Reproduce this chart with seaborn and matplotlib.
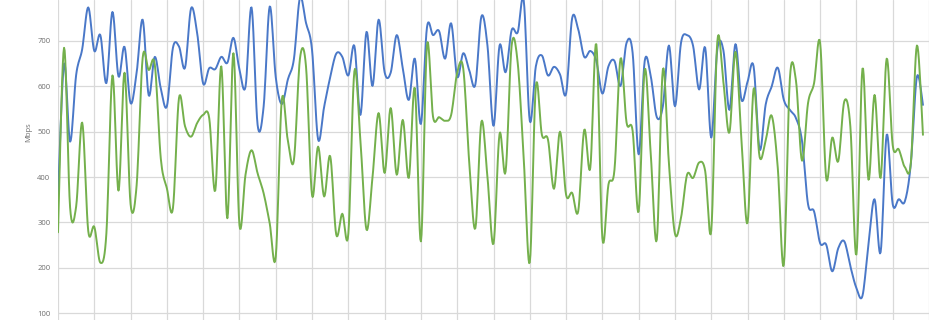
import numpy as np
import pandas as pd
import matplotlib
matplotlib.use("Agg")
import matplotlib.pyplot as plt
import seaborn as sns

# 10-minute measurement slots over one day (144 slots), gridline every hour
slot = list(range(144))

blue_mbps = [355, 650, 478, 625, 682, 774, 678, 713, 607, 764, 622, 687, 563, 630, 747, 580,
             665, 595, 556, 685, 688, 641, 772, 718, 606, 640, 638, 665, 652, 707, 637, 599,
             774, 515, 556, 776, 620, 561, 615, 660, 795, 740, 680, 483, 555, 620, 672, 665,
             624, 689, 537, 720, 601, 747, 631, 630, 713, 640, 570, 661, 517, 730, 713, 722,
             661, 739, 621, 673, 635, 604, 754, 690, 513, 690, 631, 724, 719, 789, 524, 644,
             668, 624, 643, 626, 584, 750, 726, 665, 678, 656, 584, 644, 656, 601, 696, 674,
             450, 656, 622, 532, 556, 690, 556, 696, 713, 689, 593, 685, 487, 681, 680, 548,
             693, 570, 610, 644, 461, 560, 600, 641, 570, 548, 530, 480, 340, 324, 254, 251,
             192, 243, 258, 203, 155, 138, 254, 351, 234, 493, 340, 351, 346, 430, 621, 559]

green_mbps = [278, 685, 333, 335, 520, 281, 290, 211, 276, 624, 370, 630, 340, 382, 663, 636,
              648, 440, 375, 331, 574, 512, 489, 519, 537, 530, 370, 644, 309, 673, 294, 405,
              459, 408, 364, 298, 224, 570, 480, 437, 661, 644, 360, 467, 357, 446, 273, 319,
              275, 633, 480, 284, 400, 541, 409, 552, 405, 526, 398, 596, 258, 690, 533, 532,
              524, 537, 630, 639, 430, 287, 522, 400, 253, 495, 412, 690, 652, 440, 212, 600,
              493, 483, 374, 500, 361, 365, 324, 504, 420, 693, 265, 383, 416, 661, 520, 502,
              324, 637, 450, 262, 637, 430, 275, 310, 405, 398, 432, 413, 282, 698, 610, 498,
              676, 481, 299, 594, 444, 481, 535, 420, 207, 617, 613, 436, 563, 607, 696, 398,
              487, 435, 567, 511, 229, 639, 394, 581, 398, 661, 470, 461, 422, 431, 690, 493]

series_names = ["blue", "green"]
palette = {"blue": "#4a78c8", "green": "#74b04c"}
y_ticks = [100, 200, 300, 400, 500, 600, 700]


def excel_smooth(x, y, steps=10):
    """Render a polyline the way a spreadsheet 'smoothed line' does (Bezier through the points)."""
    x = np.asarray(x, float)
    y = np.asarray(y, float)
    xp = np.concatenate([[x[0]], x, [x[-1]]])
    yp = np.concatenate([[y[0]], y, [y[-1]]])
    t = np.linspace(0, 1, steps, endpoint=False)[:, None]
    xs, ys = [], []
    for i in range(1, len(xp) - 2):
        p0x, p1x, p2x, p3x = xp[i - 1], xp[i], xp[i + 1], xp[i + 2]
        p0y, p1y, p2y, p3y = yp[i - 1], yp[i], yp[i + 1], yp[i + 2]
        c1x, c1y = p1x + (p2x - p0x) / 6, p1y + (p2y - p0y) / 6
        c2x, c2y = p2x - (p3x - p1x) / 6, p2y - (p3y - p1y) / 6
        bx = (1 - t) ** 3 * p1x + 3 * (1 - t) ** 2 * t * c1x + 3 * (1 - t) * t ** 2 * c2x + t ** 3 * p2x
        by = (1 - t) ** 3 * p1y + 3 * (1 - t) ** 2 * t * c1y + 3 * (1 - t) * t ** 2 * c2y + t ** 3 * p2y
        xs.append(bx.ravel())
        ys.append(by.ravel())
    xs.append([x[-1]])
    ys.append([y[-1]])
    return np.concatenate(xs), np.concatenate(ys)


frames = []
for name, vals in zip(series_names, [blue_mbps, green_mbps]):
    sx, sy = excel_smooth(slot, vals)
    frames.append(pd.DataFrame({"slot": sx, "mbps": sy, "series": name}))
df = pd.concat(frames, ignore_index=True)

sns.set_theme(style="white")
plt.rcParams["font.family"] = ["Open Sans", "DejaVu Sans"]

fig = plt.figure(figsize=(9.5, 3.2), dpi=100)
ax = fig.add_axes([58 / 950, 0.0, 871 / 950, 1.0])

sns.lineplot(data=df, x="slot", y="mbps", hue="series", palette=palette, hue_order=series_names,
             sort=False, estimator=None, legend=False, linewidth=1.4, ax=ax)

ax.set_xlim(0, 144)
ax.set_ylim(84.6, 790.4)
ax.set_xticks(range(0, 145, 6))
ax.set_xticklabels([])
ax.set_yticks(y_ticks)
ax.set_yticklabels([str(v) for v in y_ticks])
ax.grid(True, color="#d9d9d9", linewidth=0.9)
ax.set_axisbelow(True)
for s in ax.spines.values():
    s.set_visible(False)
ax.tick_params(axis="both", length=0)
ax.tick_params(axis="y", labelsize=5.5, labelcolor="#6e6e6e", pad=5.5)
ax.set_xlabel("")
ax.set_ylabel("Mbps", fontsize=5.5, color="#6e6e6e")
ax.yaxis.set_label_coords(-0.030, 0.5875)

fig.savefig("out.png", dpi=100)
